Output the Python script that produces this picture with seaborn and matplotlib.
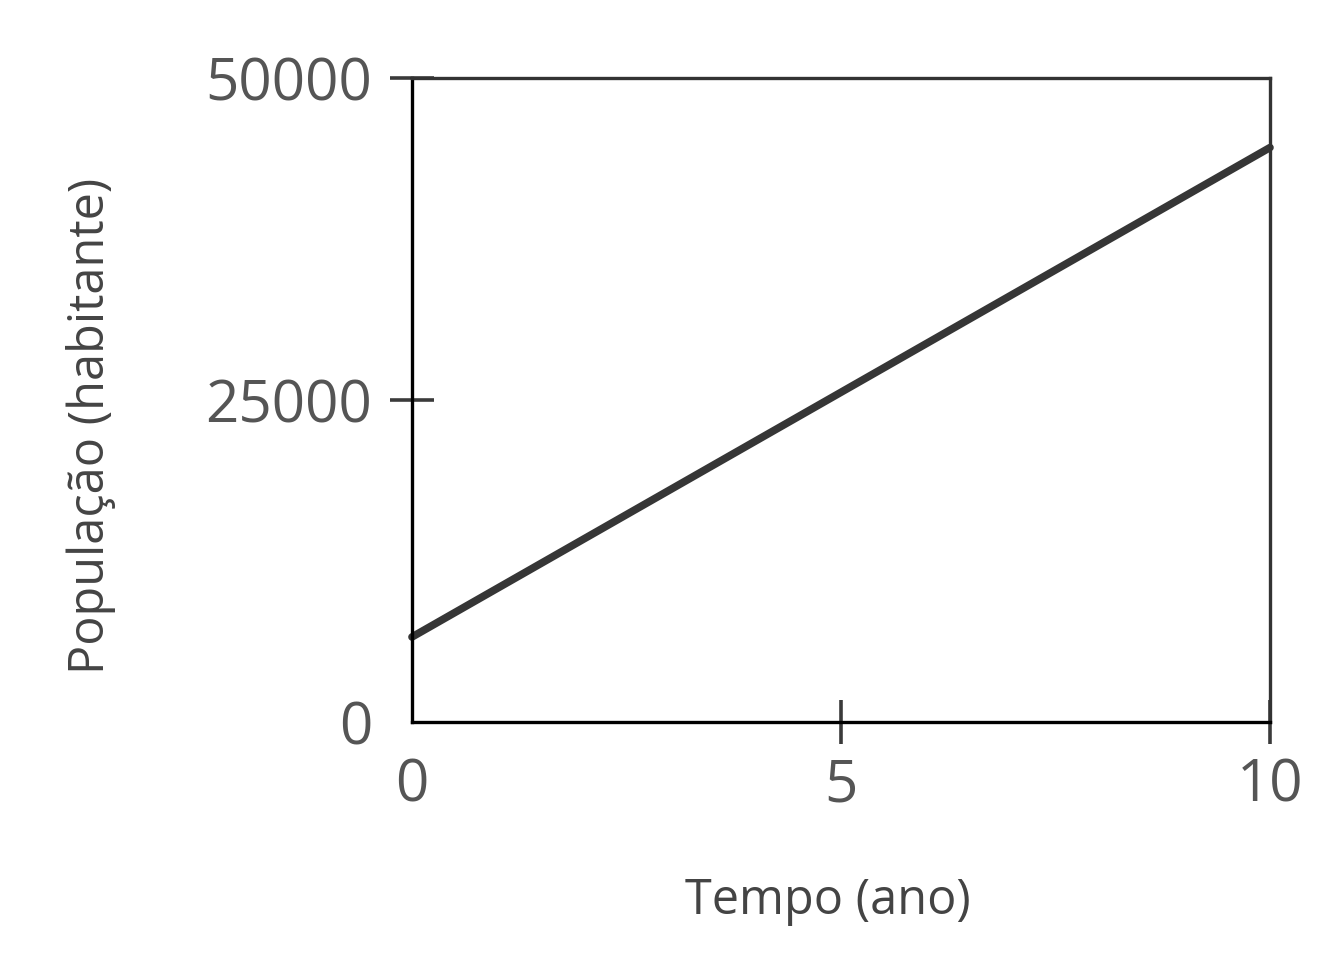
import matplotlib
matplotlib.use("Agg")
import matplotlib.pyplot as plt
import seaborn as sns
import pandas as pd

# data
anos = [0, 10]
populacao = [6600, 44600]
xticks = [0, 5, 10]
yticks = [0, 25000, 50000]

df = pd.DataFrame({"ano": anos, "pop": populacao})

sns.set_style("white")
plt.rcParams['font.family'] = ['Open Sans', 'DejaVu Sans']

fig = plt.figure(figsize=(13.35, 9.69), dpi=100)
ax = fig.add_axes([0.3086, 0.2549, 0.9513 - 0.3086, 0.9195 - 0.2549])

sns.lineplot(data=df, x="ano", y="pop", ax=ax, color="#363636", linewidth=5.5,
             solid_capstyle="round", clip_on=False)

ax.set_xlim(0, 10)
ax.set_ylim(0, 50000)
ax.set_xticks(xticks)
ax.set_yticks(yticks)
ax.set_xticklabels([str(t) for t in xticks])
ax.set_yticklabels([str(t) for t in yticks])

for side in ["left", "bottom"]:
    ax.spines[side].set_color("black")
    ax.spines[side].set_linewidth(2.4)
for side in ["top", "right"]:
    ax.spines[side].set_visible(True)
    ax.spines[side].set_color("#333333")
    ax.spines[side].set_linewidth(2.4)

ax.tick_params(axis="both", direction="inout", length=31, width=2.6,
               color="#3a3a3a", labelcolor="#555555", labelsize=42,
               bottom=True, left=True)
ax.tick_params(axis="x", pad=10)
ax.tick_params(axis="y", pad=13)

# no tick marks at the origin
ax.xaxis.get_major_ticks()[0].tick1line.set_visible(False)
ax.yaxis.get_major_ticks()[0].tick1line.set_visible(False)

ax.set_xlabel("Tempo (ano)", fontsize=35, color="#444444")
ax.set_ylabel("População (habitante)", fontsize=35, color="#444444")
ax.xaxis.set_label_coords(0.485, -0.24)
ax.yaxis.set_label_coords(-0.345, 0.46)

fig.savefig("out.png", dpi=100)
